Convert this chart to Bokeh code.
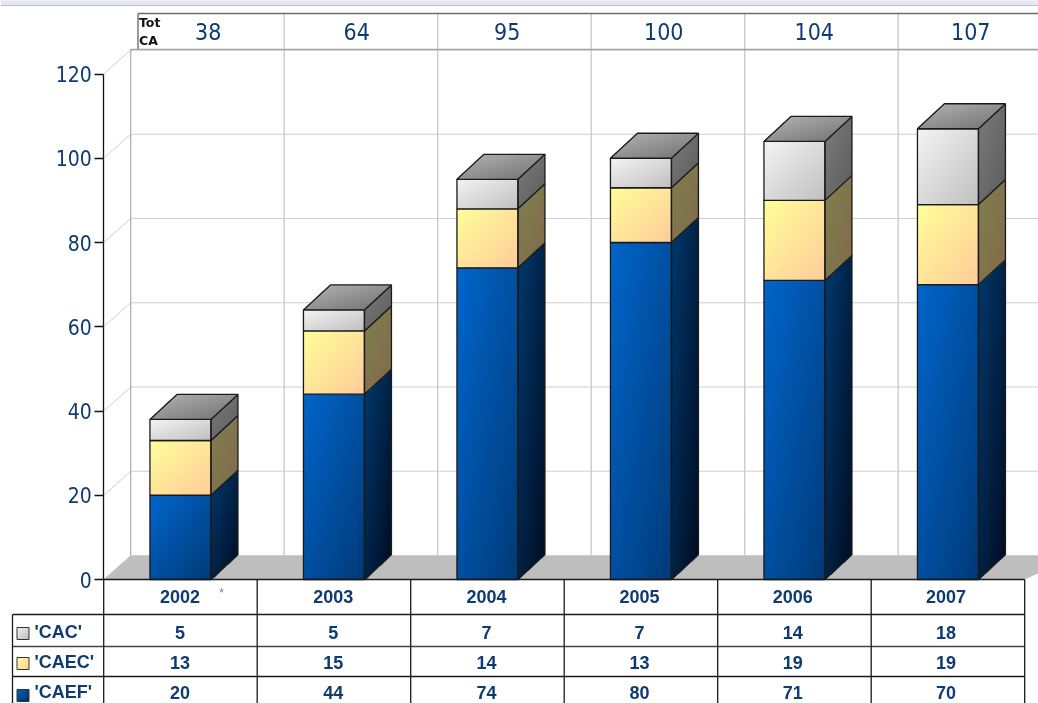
import numpy as np
from bokeh.embed import file_html
from bokeh.resources import INLINE
from bokeh.plotting import figure
from bokeh.models import LinearAxis, Range1d, FixedTicker
from bokeh.core.properties import value

years = ["2002", "2003", "2004", "2005", "2006", "2007"]
totals = ["38", "64", "95", "100", "104", "107"]
cac = [5, 5, 7, 7, 14, 18]
caec = [13, 15, 14, 13, 19, 19]
caef = [20, 44, 74, 80, 71, 70]
y_ticks = [0, 20, 40, 60, 80, 100, 120]
series_names = ["'CAC'", "'CAEC'", "'CAEF'"]

W, H = 1038, 703
PX0, PX120 = 579.0, 73.5
UNIT = 120.0 / (PX0 - PX120)
SLOT = 153.5
X0 = 103.2
BAR_W = 61.0
DX, DY = 27, 25
WALL_DX, WALL_DY = 27, 24
NAVY = "#0e3b72"


def yv(py):
    return (PX0 - py) * UNIT


p = figure(width=W, height=H, output_backend="svg", toolbar_location=None,
           x_range=Range1d(0, W), y_range=Range1d(yv(H), yv(0)),
           min_border=0, min_border_left=0, min_border_right=0,
           min_border_top=0, min_border_bottom=0, outline_line_color=None)
p.xaxis.visible = False
p.yaxis.visible = False
p.grid.visible = False
p.styles = {"position": "fixed", "left": "0", "top": "0"}


def hex_rgb(h):
    return np.array([int(h[i:i + 2], 16) for i in (1, 3, 5)], dtype=float)


def gradient_image(mask, t, c1, c2):
    a, b = hex_rgb(c1), hex_rgb(c2)
    rgb = a[None, None, :] * (1 - t[..., None]) + b[None, None, :] * t[..., None]
    rgba = np.dstack([rgb, np.where(mask, 255, 0)]).astype(np.uint8)
    h_i, w_i = mask.shape
    arr = np.zeros((h_i, w_i), dtype=np.uint32)
    arr.view(np.uint8).reshape((h_i, w_i, 4))[:] = rgba
    return arr[::-1]


def face(xa, ya, w, h, shear, c1, c2):
    w_i, h_i = int(round(w)), int(round(h + abs(shear)))
    yy, xx = np.mgrid[0:h_i, 0:w_i]
    xx = xx + .5
    yy = yy + .5
    t = np.clip(0.5 * xx / max(w, 1) + 0.5 * yy / max(h_i, 1), 0, 1)
    top = shear * (1 - xx / w)
    mask = (yy >= top - .5) & (yy <= top + h + .5)
    p.image_rgba(image=[gradient_image(mask, t, c1, c2)], x=[xa], y=[yv(ya)], dw=[w_i], dh=[h_i * UNIT])


def top_face(xa, py, w, dx, dy, c1, c2):
    w_i, h_i = int(w + dx), int(dy)
    yy, xx = np.mgrid[0:h_i, 0:w_i]
    xx = xx + .5
    yy = yy + .5
    left = dx * (1 - yy / dy)
    t = np.clip(0.5 * xx / w_i + 0.5 * yy / h_i, 0, 1)
    mask = (xx >= left - .5) & (xx <= left + w + .5)
    p.image_rgba(image=[gradient_image(mask, t, c1, c2)], x=[xa], y=[yv(py)], dw=[w_i], dh=[h_i * UNIT])


# page strip
p.quad(left=0, right=W, bottom=yv(4.5), top=yv(-1), fill_color="#e4e8f3", line_color=None)
p.segment(0, yv(5), W, yv(5), line_color="#bdbdbd", line_width=1.2)

# floor
p.patch([X0, X0 + WALL_DX, W + 40, X0 + 6 * SLOT], [0, yv(PX0 - WALL_DY), yv(PX0 - WALL_DY), 0],
        fill_color="#bebebe", line_color=None)

GRID = "#cfcfcf"
for t in y_ticks:
    back = yv(PX0 - WALL_DY) + t
    p.segment(X0 + WALL_DX, back, W, back, line_color=GRID, line_width=1.2)
    p.segment(X0, t, X0 + WALL_DX, back, line_color=GRID, line_width=1)
for i in range(0, 6):
    xw = X0 + WALL_DX + i * SLOT
    p.segment(xw, yv(PX0 - WALL_DY), xw, yv(13 if i else 49),
              line_color="#c8c8c8" if i else "#b0b0b0", line_width=1.3)

# header box
p.segment(137.5, yv(13), W, yv(13), line_color="#6e6e6e", line_width=1.4)
p.segment(137.5, yv(13), 137.5, yv(49), line_color="#6e6e6e", line_width=1.4)
p.segment(130, yv(49), W, yv(49), line_color="#a4a4a4", line_width=1.4)
hdr = dict(text_font=value("DejaVu Sans"), text_font_style="bold", text_font_size="12.5px",
           text_color="#111111", text_baseline="middle")
p.text([138.5], [yv(22)], text=["Tot"], **hdr)
p.text([138.5], [yv(39.5)], text=["CA"], **hdr)
total_nudge = [0.8, -4.2, -7.2, -4.2, -7.2, -4.2]
p.text([X0 + WALL_DX + (i + .5) * SLOT + total_nudge[i] for i in range(6)], [yv(30.5)] * 6, text=totals,
       text_font=value("DejaVu Sans Condensed"), text_font_size="23px", text_color=NAVY,
       text_align="center", text_baseline="middle")

# bars
OUT = "#1a1a1a"
segs = [(caef, "#0066cc", "#003a78", "#003a70", "#000c20"),
        (caec, "#ffff99", "#ffcc99", "#80804d", "#806a4d"),
        (cac, "#f5f5f5", "#c0c0c0", "#7c7c7c", "#5c5c5c")]
for i in range(6):
    cx = X0 + (i + .5) * SLOT
    xl = cx - BAR_W / 2
    xr = xl + BAR_W
    base = 0
    for vals, c1, c2, s1, s2 in segs:
        v = vals[i]
        py0 = PX0 - base / UNIT
        py1 = PX0 - (base + v) / UNIT
        side_h = py0 - py1
        face(xr, py0, DX, side_h, DY, s1, s2)
        face(xl, py0, BAR_W, side_h, 0, c1, c2)
        p.patch([xr, xr + DX, xr + DX, xr], [base, base + DY * UNIT, base + v + DY * UNIT, base + v],
                fill_color=None, line_color=OUT, line_width=1.3)
        p.quad(left=xl, right=xr, bottom=base, top=base + v, fill_color=None, line_color=OUT, line_width=1.3)
        base += v
    top_py = PX0 - base / UNIT
    top_face(xl, top_py, BAR_W, DX, DY, "#b6b6b6", "#707070")
    p.patch([xl, xl + DX, xr + DX, xr], [base, base + DY * UNIT, base + DY * UNIT, base],
            fill_color=None, line_color=OUT, line_width=1.3)

# y axis
axis = LinearAxis(fixed_location=X0, bounds=(0, 120), ticker=FixedTicker(ticks=y_ticks))
axis.axis_line_color = "#111111"
axis.axis_line_width = 1.3
axis.major_tick_line_color = "#111111"
axis.major_tick_line_width = 1.3
axis.major_tick_in = 0
axis.major_tick_out = 9
axis.minor_tick_line_color = None
axis.major_label_text_font = "DejaVu Sans Condensed"
axis.major_label_text_font_size = "21px"
axis.major_label_text_color = NAVY
axis.major_label_standoff = 3
p.add_layout(axis, "left")

# data table
col_x = [X0 + i * SLOT for i in range(7)]
row_y = [579, 614, 646, 676]
LINE = "#1a1a1a"
p.segment(X0, 0, col_x[-1], 0, line_color=LINE, line_width=1.3)
for ry in row_y[1:]:
    p.segment(12, yv(ry), col_x[-1], yv(ry), line_color=LINE if ry != 646 else "#444444", line_width=1.3)
for cxx in col_x:
    p.segment(cxx, 0, cxx, yv(H), line_color=LINE, line_width=1.3)
p.segment(12, yv(614), 12, yv(H), line_color=LINE, line_width=1.3)

centers = [X0 + 76.3 + i * 153.2 for i in range(6)]
tf = dict(text_font=value("Liberation Sans"), text_font_style="bold", text_font_size="18px",
          text_color=NAVY, text_baseline="middle")
p.text(centers, [yv(596.2)] * 6, text=years, text_align="center", **tf)
for vals, ry in ((cac, 631.5), (caec, 661.5), (caef, 691.5)):
    p.text(centers, [yv(ry)] * 6, text=[str(v) for v in vals], text_align="center", **tf)
p.text([221], [yv(592)], text=["*"], text_font=value("Liberation Sans"), text_font_size="12px",
       text_color="#6d83a3", text_align="center", text_baseline="middle")
for name, ry in zip(series_names, (631.5, 661.5, 691.5)):
    p.text([34], [yv(ry)], text=[name], text_align="left", **tf)
for (c1, c2), ry in zip((("#f2f2f2", "#bcbcbc"), ("#ffff99", "#ffcc99"), ("#0066cc", "#002a58")), (633, 663, 695)):
    s = 12
    face(16.5, ry + s / 2, s, s, 0, c1, c2)
    p.quad(left=16.5, right=16.5 + s, bottom=yv(ry + s / 2), top=yv(ry - s / 2), fill_color=None,
           line_color="#333333", line_width=1)

open("out.html", "w").write(file_html(p, INLINE))
